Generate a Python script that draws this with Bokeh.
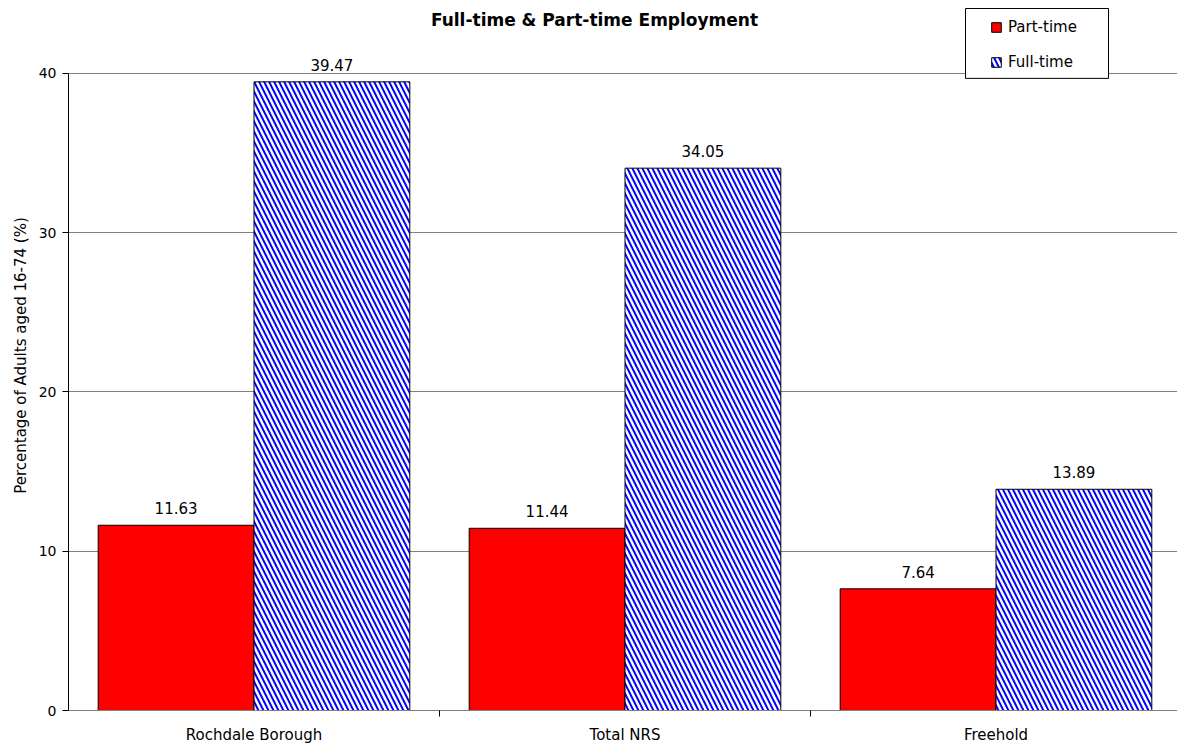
from bokeh.plotting import figure
from bokeh.models import (ColumnDataSource, FixedTicker, Legend, LegendItem, Range1d,
                          LabelSet, Label, BoxAnnotation)
from bokeh.core.properties import value
from bokeh.embed import file_html
from bokeh.resources import INLINE

categories = ["Rochdale Borough", "Total NRS", "Freehold"]
part_time = [11.63, 11.44, 7.64]
full_time = [39.47, 34.05, 13.89]
y_ticks = [0, 10, 20, 30, 40]

FONT = "DejaVu Sans"
n = len(categories)
centers = [i + 0.5 for i in range(n)]
bw = 0.42

# layout: frame covers the whole canvas height; 40 at y=73px, 0 at y=711px
W, H = 1177, 746
left_px, bottom_px = 68, 35
frame_h = H - bottom_px
ppu = (711 - 73) / 40.0
y_top = frame_h / ppu
cat_px = 371.0
x_end = (W - left_px) / cat_px

def ypx(py):  # screen pixel (from top) -> data y
    return (711 - py) / ppu

def xpx(px):
    return (px - left_px) / cat_px

p = figure(width=W, height=H, output_backend="svg", toolbar_location=None,
           x_range=Range1d(0, x_end), y_range=Range1d(0, y_top),
           min_border_left=left_px, min_border_right=0, min_border_top=0,
           min_border_bottom=bottom_px)
p.title = None
p.outline_line_color = None
p.background_fill_color = "white"
p.border_fill_color = "white"

pt_src = ColumnDataSource(dict(x=[c - bw / 2 for c in centers], top=part_time,
                               lbl=[f"{v:.2f}" for v in part_time]))
ft_src = ColumnDataSource(dict(x=[c + bw / 2 for c in centers], top=full_time,
                               lbl=[f"{v:.2f}" for v in full_time]))

r_pt = p.vbar(x="x", top="top", width=bw, bottom=0, source=pt_src,
              fill_color="#ff0000", line_color="black", line_width=1)
r_ft = p.vbar(x="x", top="top", width=bw, bottom=0, source=ft_src,
              fill_color="white", line_color="black", line_width=1,
              hatch_pattern="left_diagonal_line", hatch_color="#0000ff",
              hatch_scale=10, hatch_weight=2)

for src in (pt_src, ft_src):
    p.add_layout(LabelSet(x="x", y="top", text="lbl", source=src, y_offset=11,
                          text_align="center", text_baseline="bottom",
                          text_font=value(FONT), text_font_size="15px", text_color="black"))

# x axis
p.xaxis.ticker = FixedTicker(ticks=centers, minor_ticks=list(range(1, n)))
p.xaxis.major_label_overrides = {c: lbl for c, lbl in zip(centers, categories)}
p.xaxis.major_tick_out = 0
p.xaxis.major_tick_in = 0
p.xaxis.minor_tick_out = 6
p.xaxis.minor_tick_in = 0
p.xaxis.minor_tick_line_color = "black"
p.xaxis.axis_line_color = "#808080"
p.xaxis.major_label_text_font = FONT
p.xaxis.major_label_text_font_size = "15px"
p.xaxis.major_label_text_color = "black"
p.xaxis.major_label_standoff = 9
p.xgrid.visible = False

# y axis
p.yaxis.ticker = FixedTicker(ticks=y_ticks)
p.yaxis.bounds = (0, 40)
p.yaxis.minor_tick_line_color = None
p.yaxis.major_tick_out = 6
p.yaxis.major_tick_in = 0
p.yaxis.axis_line_color = "black"
p.yaxis.major_tick_line_color = "black"
p.yaxis.major_label_text_font = FONT
p.yaxis.major_label_text_font_size = "14px"
p.yaxis.major_label_text_color = "black"
p.yaxis.major_label_standoff = 6
p.yaxis.axis_label = "Percentage of Adults aged 16-74 (%)"
p.yaxis.axis_label_text_font = FONT
p.yaxis.axis_label_text_font_size = "15px"
p.yaxis.axis_label_text_font_style = "normal"
p.yaxis.axis_label_text_color = "black"
p.yaxis.axis_label_standoff = 6
p.ygrid.grid_line_color = "#808080"
p.ygrid.grid_line_width = 1

# title
p.add_layout(Label(x=xpx(594), y=ypx(20), text="Full-time & Part-time Employment",
                   text_font=FONT, text_font_size="17px", text_font_style="bold",
                   text_align="center", text_baseline="middle", text_color="black"))

# legend box
p.add_layout(BoxAnnotation(left=xpx(965), right=xpx(1108), top=ypx(8), bottom=ypx(78),
                           fill_color="white", fill_alpha=1, line_color="black",
                           line_alpha=1, line_width=1, level="overlay"))

legend = Legend(items=[LegendItem(label="Part-time", renderers=[r_pt]),
                       LegendItem(label="Full-time", renderers=[r_ft])],
                location=(992 - 2 - left_px, frame_h - 72), orientation="vertical",
                label_text_font=FONT, label_text_font_size="15px",
                label_text_color="black",
                glyph_width=12, glyph_height=12, label_height=16,
                spacing=17, padding=6, margin=0,
                border_line_color=None, background_fill_alpha=0,
                label_standoff=6)
p.add_layout(legend, "center")

open("out.html", "w").write(file_html(p, INLINE))
